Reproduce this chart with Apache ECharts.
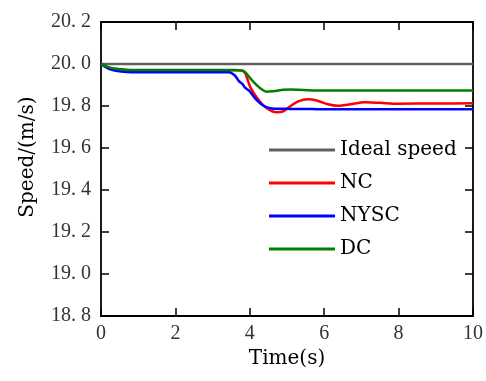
<!DOCTYPE html>
<html><head><meta charset="utf-8">
<script src="https://cdn.jsdelivr.net/npm/echarts@6/dist/echarts.min.js"></script>
<style>html,body{margin:0;padding:0;background:#fff}#c{width:486px;height:381px}</style>
</head><body><div id="c"></div>
<script>
const times = [0,0.2,0.4,0.7,1,2,3,3.44,3.6,3.7,3.8,3.88,4.0,4.15,4.3,4.45,4.6,4.72,4.9,5.1,5.3,5.57,5.8,6.1,6.37,6.7,7.08,7.5,8,9,10];
const ideal = times.map(()=>20.0);
const nc   = [20.0,19.984,19.976,19.971,19.970,19.970,19.970,19.970,19.970,19.970,19.968,19.955,19.895,19.850,19.815,19.790,19.775,19.770,19.775,19.800,19.822,19.832,19.826,19.808,19.801,19.808,19.818,19.815,19.811,19.812,19.813];
const nysc = [20.0,19.978,19.968,19.962,19.961,19.961,19.961,19.961,19.945,19.920,19.905,19.886,19.870,19.835,19.810,19.795,19.788,19.787,19.787,19.786,19.786,19.786,19.785,19.785,19.785,19.785,19.785,19.785,19.785,19.785,19.785];
const dc   = [20.0,19.985,19.977,19.972,19.971,19.971,19.971,19.971,19.971,19.970,19.968,19.960,19.935,19.905,19.882,19.868,19.870,19.873,19.877,19.878,19.877,19.875,19.874,19.874,19.874,19.874,19.874,19.874,19.874,19.874,19.874];
const names = ['Ideal speed','NC','NYSC','DC'];
const colors = ['#606060','#ff0000','#0000ff','#008000'];
const xTicks = [0,2,4,6,8,10];
const yTicks = [18.8,19.0,19.2,19.4,19.6,19.8,20.0,20.2];

const chart = echarts.init(document.getElementById('c'));
const pair = arr => times.map((t,i)=>[t,arr[i]]);
const serif = 'DejaVu Serif';
const tickFont = 'Liberation Serif';
const axisBase = {
  axisLine:{show:true,onZero:false,lineStyle:{color:'#000',width:1.8}},
  axisTick:{show:true,inside:true,length:8,lineStyle:{color:'#000',width:1.5}},
  splitLine:{show:false}
};
chart.setOption({
  animation:false,
  grid:{left:101,right:10,top:22,bottom:65},
  legend:{
    orient:'vertical', left:264, top:135, itemWidth:66, itemHeight:3, itemGap:13,
    icon:'rect',
    textStyle:{fontFamily:serif,fontSize:20,color:'#000'},
    data:names
  },
  xAxis:[
    Object.assign({type:'value',min:0,max:10,interval:2,position:'bottom',
      name:'Time(s)',nameLocation:'middle',nameGap:30,
      nameTextStyle:{fontFamily:serif,fontSize:20,color:'#000'},
      axisLabel:{fontFamily:tickFont,fontSize:20,color:'#333',margin:8}},axisBase),
    Object.assign({type:'value',min:0,max:10,interval:2,position:'top',
      axisLabel:{show:false}},axisBase)
  ],
  yAxis:[
    Object.assign({type:'value',min:18.8,max:20.2,interval:0.2,position:'left',
      name:'Speed/(m/s)',nameLocation:'middle',nameGap:63,
      nameTextStyle:{fontFamily:serif,fontSize:20,color:'#000',padding:[0,0,0,24]},
      axisLabel:{fontFamily:tickFont,fontSize:20,color:'#333',margin:10,
        formatter:v=>v.toFixed(1).replace('.','. ')}},axisBase),
    Object.assign({type:'value',min:18.8,max:20.2,interval:0.2,position:'right',
      axisLabel:{show:false}},axisBase)
  ],
  series:[ideal,nc,nysc,dc].map((arr,i)=>({
    name:names[i], type:'line', data:pair(arr), smooth:0.3, showSymbol:false,
    color:colors[i], lineStyle:{width:2.5,color:colors[i]}
  }))
});
</script></body></html>
